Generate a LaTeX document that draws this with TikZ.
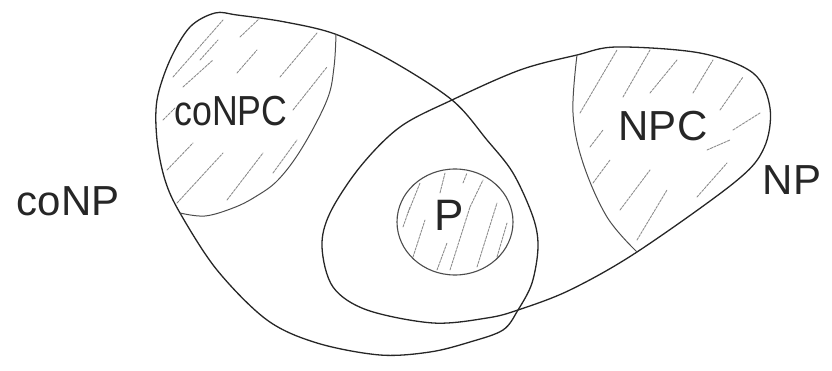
\documentclass[tikz,border=0pt]{standalone}
\usepackage{fontspec}
\setmainfont{Liberation Sans}
\begin{document}
\begin{tikzpicture}[x=1pt,y=-1pt,
  outline/.style={draw=black!85, line width=1.3pt, line join=round},
  inner/.style={draw=black!70, line width=1pt, line join=round},
  hatch/.style={draw=black!45, line width=0.9pt, dash pattern=on 2.5pt off 1.2pt, line cap=round},
  lbl/.style={font=\fontsize{42}{42}\selectfont, inner sep=0pt, text=black!85}]
\useasboundingbox (0,0) rectangle (832,371);
% coNP
\draw[outline] plot[smooth cycle, tension=0.55] coordinates {
 (237,15) (285,22) (335,34) (390,60) (452,100) (487,140) (513,173) (533,217)
 (538,247) (532,283) (518,310) (503,330) (470,342) (430,352) (380,355)
 (317,343) (267,320) (217,270) (180,213) (165,180) (157,140) (157,100)
 (170,60) (190,27) (215,13)};
% NP
\draw[outline] plot[smooth cycle, tension=0.55] coordinates {
 (577,55) (617,47) (700,53) (753,73) (770,108) (764,148) (735,182)
 (637,252) (570,290) (518,310) (487,318) (433,323) (367,310) (333,287)
 (322,247) (330,213) (360,167) (400,127) (452,100) (520,70)};
% coNPC inner boundary
\draw[inner] plot[smooth, tension=0.6] coordinates {
 (336,34) (334,67) (327,100) (302,148) (278,180) (255,197) (233,208) (205,216) (180,213)};
% NPC inner boundary
\draw[inner] plot[smooth, tension=0.6] coordinates {
 (577,55) (573,113) (583,163) (607,217) (637,252)};
% P
\draw[inner, line width=1.1pt] (455,222) ellipse [x radius=58, y radius=53];
% hatching coNPC
\foreach \a/\b in {{(173,77)}/{(223,20)}, {(183,87)}/{(213,60)}, {(240,37)}/{(260,18)},
  {(237,73)}/{(257,50)}, {(280,77)}/{(317,33)}, {(293,110)}/{(327,67)},
  {(167,170)}/{(193,143)}, {(177,203)}/{(223,153)}, {(227,200)}/{(263,153)},
  {(273,173)}/{(297,140)}, {(163,120)}/{(175,108)}, {(200,60)}/{(218,40)}}
  \draw[hatch] \a -- \b;
% hatching NPC
\foreach \a/\b in {{(580,113)}/{(617,50)}, {(590,147)}/{(603,130)}, {(623,97)}/{(650,50)},
  {(650,93)}/{(677,60)}, {(693,93)}/{(713,60)}, {(720,110)}/{(743,77)},
  {(733,130)}/{(760,113)}, {(593,183)}/{(610,160)}, {(620,210)}/{(650,170)},
  {(637,240)}/{(667,190)}, {(697,197)}/{(727,163)}, {(707,150)}/{(730,140)}}
  \draw[hatch] \a -- \b;
% hatching P
\foreach \a/\b in {{(413,257)}/{(425,220)}, {(403,227)}/{(410,207)}, {(408,213)}/{(420,183)},
  {(437,270)}/{(447,243)}, {(440,193)}/{(445,173)}, {(450,270)}/{(470,207)},
  {(463,183)}/{(467,173)}, {(477,267)}/{(497,203)}, {(470,207)}/{(483,180)},
  {(497,257)}/{(507,223)}}
  \draw[hatch] \a -- \b;
% labels
\node[lbl, xscale=0.85] (conpc) at (231,111) {coNPC};
\node[lbl] (npc) at (663,126) {NPC};
\node[lbl] (conp) at (68,201) {coNP};
\node[lbl] (np) at (792,180) {NP};
\node[lbl, font=\fontsize{44}{44}\selectfont] (p) at (449,215) {P};
\end{tikzpicture}
\end{document}
